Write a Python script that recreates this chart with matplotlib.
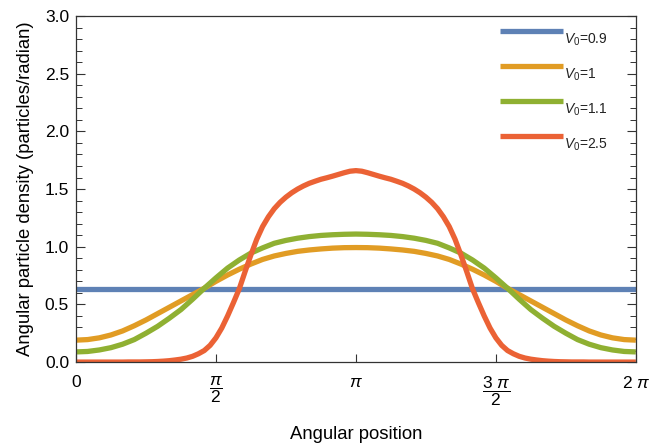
import numpy as np
import matplotlib
matplotlib.use('Agg')
import matplotlib.pyplot as plt

plt.rcParams['font.family'] = ['Liberation Sans', 'DejaVu Sans']
plt.rcParams['mathtext.fontset'] = 'custom'
plt.rcParams['mathtext.rm'] = 'Liberation Sans'
plt.rcParams['mathtext.it'] = 'Liberation Sans:italic'

# angular positions: pi/24 steps for the smooth curves, pi/48 for the steep one
theta = np.arange(49) * np.pi / 24
theta_fine = np.arange(97) * np.pi / 48

density_09 = [0.637] * 49

density_1 = [0.19, 0.195, 0.21, 0.235, 0.27, 0.315, 0.365, 0.42, 0.475, 0.53, 0.585, 0.64, 0.70,
             0.755, 0.805, 0.85, 0.89, 0.92, 0.942, 0.96, 0.972, 0.981, 0.988, 0.992, 0.993,
             0.992, 0.988, 0.981, 0.972, 0.96, 0.942, 0.92, 0.89, 0.85, 0.805, 0.755,
             0.70, 0.64, 0.585, 0.53, 0.475, 0.42, 0.365, 0.315, 0.27, 0.235, 0.21, 0.195, 0.19]

density_11 = [0.088, 0.092, 0.105, 0.125, 0.155, 0.195, 0.25, 0.31, 0.38, 0.455, 0.545, 0.64, 0.73,
              0.815, 0.885, 0.945, 0.99, 1.03, 1.055, 1.074, 1.088, 1.098, 1.104, 1.108, 1.11,
              1.108, 1.104, 1.098, 1.088, 1.074, 1.055, 1.03, 0.99, 0.945, 0.885, 0.815,
              0.73, 0.64, 0.545, 0.455, 0.38, 0.31, 0.25, 0.195, 0.155, 0.125, 0.105, 0.092, 0.088]

density_25 = [0.0, 0.0, 0.0, 0.0, 0.0, 0.0, 0.0, 0.0, 0.0, 0.001, 0.001, 0.001, 0.002, 0.003, 0.005,
              0.008, 0.012, 0.018, 0.025, 0.035, 0.05, 0.072, 0.10, 0.145, 0.21, 0.295, 0.40,
              0.515, 0.635, 0.785, 0.93, 1.065, 1.175, 1.26, 1.33, 1.385, 1.43, 1.468, 1.50,
              1.527, 1.55, 1.568, 1.585, 1.598, 1.612, 1.627, 1.642, 1.655, 1.66,
              1.655, 1.642, 1.627, 1.612, 1.598, 1.585, 1.568, 1.55, 1.527, 1.50, 1.468, 1.43,
              1.385, 1.33, 1.26, 1.175, 1.065, 0.93, 0.785, 0.635, 0.515, 0.40, 0.295, 0.21,
              0.145, 0.10, 0.072, 0.05, 0.035, 0.025, 0.018, 0.012, 0.008, 0.005, 0.003, 0.002,
              0.001, 0.001, 0.001, 0.0, 0.0, 0.0, 0.0, 0.0, 0.0, 0.0, 0.0, 0.0]

labels = [r'$V_0$=0.9', r'$V_0$=1', r'$V_0$=1.1', r'$V_0$=2.5']
colors = ['#5E81B5', '#E19C24', '#8FB032', '#EB6235']
xs = [theta, theta, theta, theta_fine]
series = [density_09, density_1, density_11, density_25]

xtick_vals = [0, np.pi / 2, np.pi, 3 * np.pi / 2, 2 * np.pi]
xtick_labels = ['0', r'$\dfrac{\pi}{2}$', r'$\pi$', r'$\dfrac{3\ \pi}{2}$', r'$2\ \pi$']
ytick_vals = [0.0, 0.5, 1.0, 1.5, 2.0, 2.5, 3.0]

fig = plt.figure(figsize=(6.51, 4.47), dpi=100)
ax = fig.add_axes([0.1167, 0.190, 0.860, 0.774])

for x, vals, c in zip(xs, series, colors):
    ax.plot(x, vals, color=c, lw=3.8, solid_capstyle='butt')

# legend Mathematica-style: line, with its label hanging just below the right end
for i, (lab, c) in enumerate(zip(labels, colors)):
    y = 0.956 - 0.101 * i
    ax.plot([0.757, 0.870], [y, y], color=c, lw=3.8, transform=ax.transAxes,
            solid_capstyle='butt', clip_on=False)
    ax.text(0.871, y - 0.024, lab, transform=ax.transAxes, fontsize=10,
            va='center', ha='left', color='#222222')

ax.set_xlim(0, 2 * np.pi)
ax.set_ylim(0, 3.0)
ax.set_xticks(xtick_vals)
ax.set_xticklabels(xtick_labels)
ax.set_yticks(ytick_vals)
ax.set_yticklabels(['%.1f' % v for v in ytick_vals])
ax.set_yticks(np.arange(0, 3.01, 0.1), minor=True)

ax.tick_params(axis='y', which='both', direction='in', right=True, labelsize=12.5,
               pad=5, color='#333333')
ax.tick_params(axis='y', which='major', length=6.5, width=0.8)
ax.tick_params(axis='y', which='minor', length=4, width=0.7)
ax.tick_params(axis='x', which='major', direction='in', length=6, width=0.8,
               labelsize=12.5, pad=9, color='#333333')
for s in ax.spines.values():
    s.set_color('#333333')
    s.set_linewidth(0.9)

ax.set_xlabel('Angular position', fontsize=13.3, labelpad=13)
ax.set_ylabel('Angular particle density (particles/radian)', fontsize=13.3, labelpad=8)

fig.savefig('out.png', dpi=100)
